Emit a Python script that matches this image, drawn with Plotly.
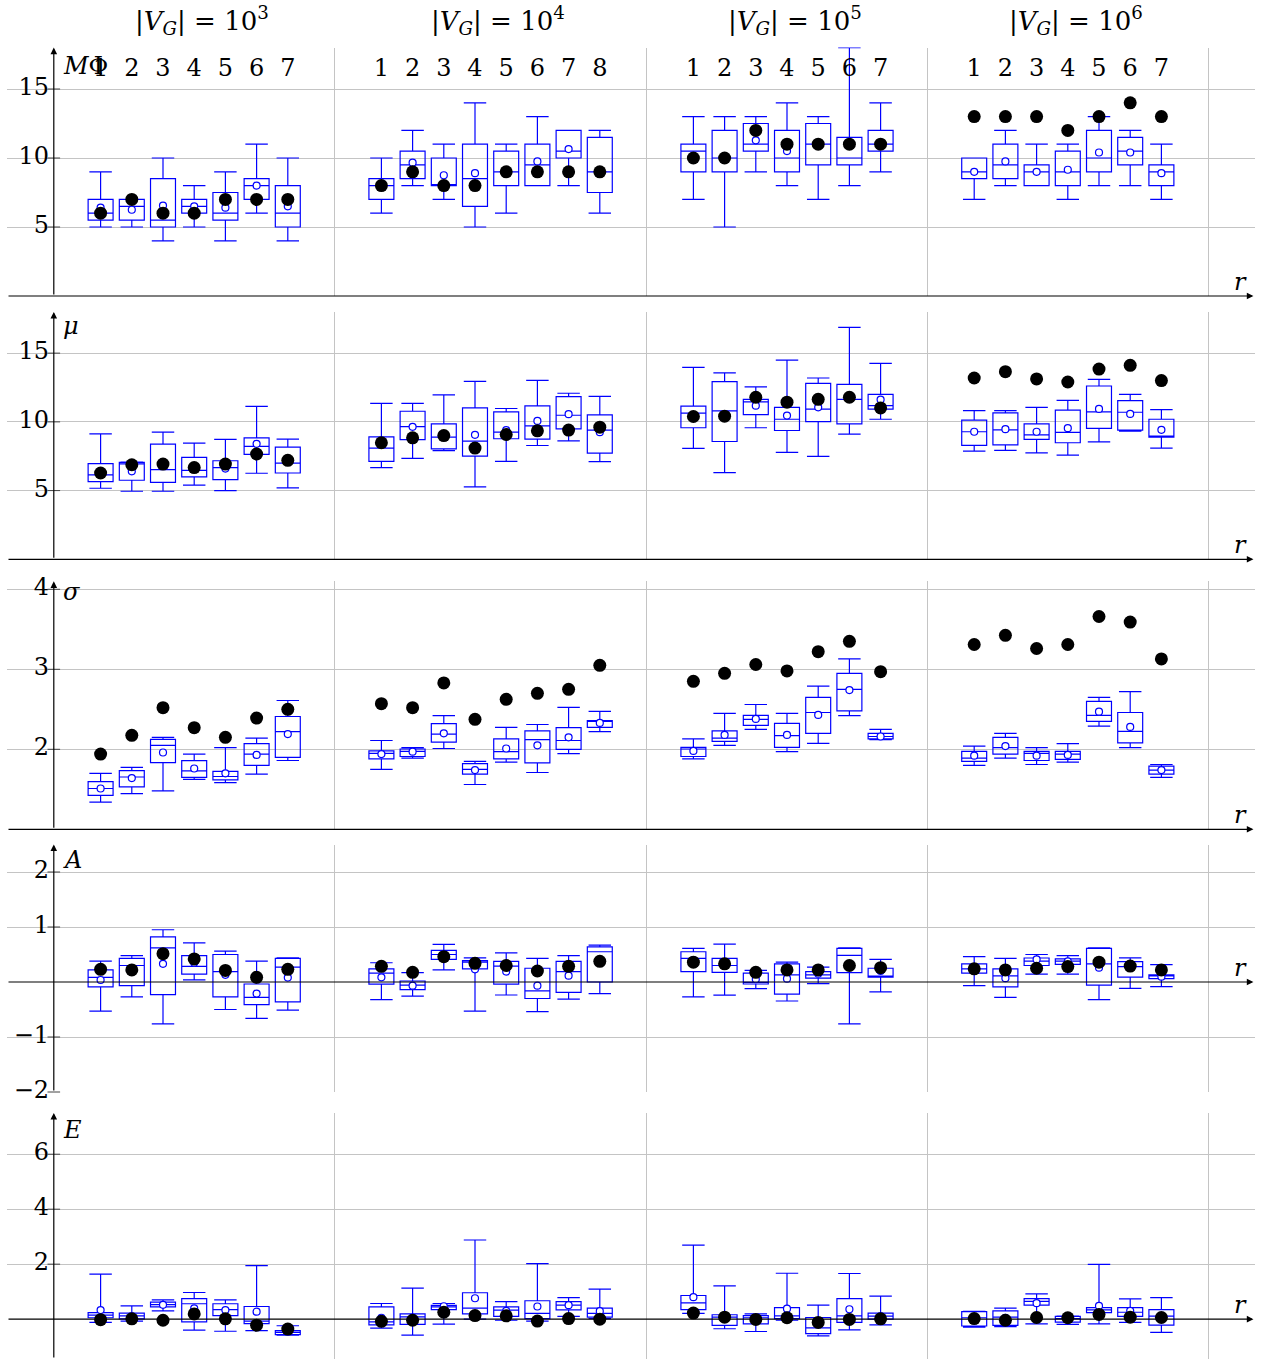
import plotly.graph_objects as go

# ---------------- data ----------------
group_titles = ["10<sup>3</sup>", "10<sup>4</sup>", "10<sup>5</sup>", "10<sup>6</sup>"]
group_sizes = [7, 8, 7, 7]
r_labels = [str(i) for n in group_sizes for i in range(1, n + 1)]

# M_Phi
M_lo = [5, 5, 4, 5, 4, 6, 4,   6, 8, 7, 5, 6, 8, 8, 6,   7, 5, 9, 8, 7, 8, 9,   7, 8, 8, 7, 8, 8, 7]
M_q1 = [5.5, 5.5, 5, 6, 5.5, 7, 5,   7, 8.5, 8, 6.5, 8, 8, 10, 7.5,   9, 9, 10.5, 9, 9.5, 9.5, 10.5,   8.5, 8.5, 8, 8, 9, 9.5, 8]
M_med = [6, 6.5, 5.5, 6.5, 6, 8, 6,   8, 9.5, 8, 8.5, 9, 9.5, 10.5, 9,   10.5, 10, 11, 10, 11, 10, 11,   9, 9.5, 9, 9, 10, 10.5, 9]
M_q3 = [7, 7, 8.5, 7, 7.5, 8.5, 8,   8.5, 10.5, 10, 11, 10.5, 11, 12, 11.5,   11, 12, 12.5, 12, 12.5, 11.5, 12,   10, 11, 9.5, 10.5, 12, 11.5, 9.5]
M_hi = [9, 7, 10, 8, 9, 11, 10,   10, 12, 11, 14, 11, 13, 12, 12,   13, 13, 13, 14, 13, 18, 14,   10, 12, 11, 11, 13, 12, 11]
M_mean = [6.4, 6.25, 6.55, 6.5, 6.4, 8.0, 6.5,   8.0, 9.66, 8.75, 8.9, 9.0, 9.75, 10.65, 9.0,   10.1, 10.0, 11.28, 10.5, 11.0, 10.9, 11.1,   9.0, 9.75, 9.0, 9.15, 10.4, 10.4, 8.9]
M_dot = [6, 7, 6, 6, 7, 7, 7,   8, 9, 8, 8, 9, 9, 9, 9,   10, 10, 12, 11, 11, 11, 11,   13, 13, 13, 12, 13, 14, 13]

# mu
mu_lo = [5.17, 4.95, 4.95, 5.4, 5.0, 6.26, 5.2,   6.67, 7.34, 7.9, 5.27, 7.13, 8.28, 8.62, 7.1,   8.07, 6.3, 9.57, 7.78, 7.49, 9.11, 10.19,   7.87, 7.92, 7.75, 7.58, 8.55, 9.32, 8.09]
mu_q1 = [5.65, 5.75, 5.6, 6.0, 5.8, 7.63, 6.28,   7.13, 8.7, 8.04, 7.51, 8.77, 8.74, 9.49, 7.73,   9.57, 8.57, 10.53, 9.37, 10.02, 9.86, 10.92,   8.29, 8.33, 8.72, 8.48, 9.52, 9.4, 8.89]
mu_med = [6.14, 6.95, 6.52, 6.47, 6.67, 8.21, 7.0,   8.09, 9.66, 8.89, 8.6, 9.25, 9.71, 10.48, 9.4,   10.63, 10.8, 11.45, 10.19, 10.92, 11.64, 11.18,   9.28, 9.42, 9.06, 9.23, 10.72, 10.7, 8.96]
mu_q3 = [6.96, 7.05, 8.38, 7.42, 7.17, 8.84, 8.16,   8.91, 10.77, 9.86, 11.01, 10.72, 11.16, 11.84, 10.51,   11.14, 12.92, 11.64, 11.06, 12.8, 12.73, 12.0,   10.12, 10.65, 9.86, 10.85, 12.61, 11.55, 10.19]
mu_hi = [9.13, 7.08, 9.25, 8.45, 8.72, 11.13, 8.74,   11.35, 11.35, 11.96, 12.95, 10.97, 13.02, 12.08, 11.86,   13.96, 13.57, 12.54, 14.49, 13.19, 16.88, 14.25,   10.82, 10.82, 11.06, 11.57, 13.09, 12.0, 10.89]
mu_mean = [6.3, 6.4, 6.9, 6.6, 6.6, 8.4, 7.1,   8.4, 9.64, 9.0, 9.06, 9.4, 10.07, 10.56, 9.25,   10.4, 10.5, 11.18, 10.46, 11.06, 11.7, 11.62,   9.28, 9.47, 9.28, 9.54, 10.94, 10.58, 9.42]
mu_dot = [6.28, 6.88, 6.93, 6.67, 6.93, 7.66, 7.2,   8.48, 8.84, 9.0, 8.09, 9.08, 9.35, 9.4, 9.61,   10.39, 10.41, 11.79, 11.43, 11.64, 11.79, 11.01,   13.19, 13.65, 13.12, 12.9, 13.84, 14.11, 13.0]

# sigma
sg_lo = [1.34, 1.446, 1.48, 1.625, 1.583, 1.69, 1.86,   1.75, 1.89, 2.01, 1.56, 1.84, 1.71, 1.945, 2.22,   1.88, 2.05, 2.25, 1.97, 2.075, 2.42, 2.12,   1.80, 1.89, 1.81, 1.84, 2.29, 2.02, 1.65]
sg_q1 = [1.425, 1.53, 1.833, 1.65, 1.617, 1.80, 1.90,   1.88, 1.91, 2.09, 1.69, 1.88, 1.83, 2.0, 2.275,   1.91, 2.10, 2.30, 2.025, 2.20, 2.48, 2.13,   1.85, 1.94, 1.86, 1.875, 2.35, 2.08, 1.69]
sg_med = [1.51, 1.654, 2.05, 1.73, 1.66, 1.94, 2.22,   1.95, 1.975, 2.19, 1.75, 1.97, 2.12, 2.11, 2.35,   2.004, 2.14, 2.375, 2.17, 2.46, 2.75, 2.16,   1.89, 2.02, 1.95, 1.94, 2.425, 2.225, 1.74]
sg_q3 = [1.596, 1.733, 2.125, 1.858, 1.725, 2.07, 2.41,   1.98, 2.004, 2.32, 1.82, 2.13, 2.23, 2.27, 2.36,   2.025, 2.23, 2.425, 2.325, 2.65, 2.95, 2.20,   1.975, 2.15, 1.975, 1.975, 2.60, 2.46, 1.79]
sg_hi = [1.70, 1.775, 2.15, 1.94, 2.02, 2.14, 2.61,   2.11, 2.02, 2.42, 1.85, 2.275, 2.31, 2.525, 2.475,   2.13, 2.45, 2.56, 2.45, 2.79, 3.13, 2.25,   2.04, 2.20, 2.02, 2.07, 2.65, 2.72, 1.81]
sg_mean = [1.51, 1.64, 1.96, 1.76, 1.70, 1.93, 2.19,   1.94, 1.97, 2.20, 1.74, 2.01, 2.05, 2.15, 2.33,   1.98, 2.18, 2.38, 2.18, 2.43, 2.74, 2.16,   1.92, 2.04, 1.92, 1.93, 2.47, 2.28, 1.74]
sg_dot = [1.94, 2.175, 2.52, 2.27, 2.15, 2.39, 2.50,   2.57, 2.52, 2.83, 2.375, 2.625, 2.70, 2.75, 3.05,   2.85, 2.95, 3.06, 2.98, 3.22, 3.35, 2.97,   3.31, 3.425, 3.26, 3.31, 3.66, 3.59, 3.13]

# A
A_lo = [-0.53, -0.27, -0.76, 0.04, -0.50, -0.66, -0.51,   -0.32, -0.255, 0.22, -0.53, -0.236, -0.54, -0.31, -0.21,   -0.27, -0.24, -0.12, -0.345, -0.03, -0.76, -0.18,   -0.067, -0.28, 0.145, 0.145, -0.32, -0.115, -0.085]
A_q1 = [-0.09, -0.067, -0.23, 0.145, -0.27, -0.41, -0.36,   -0.04, -0.14, 0.41, 0.24, -0.04, -0.30, -0.19, 0.0,   0.19, 0.176, -0.036, -0.22, 0.07, 0.17, 0.09,   0.16, -0.09, 0.30, 0.32, -0.055, 0.09, 0.06]
A_med = [0.085, 0.30, 0.62, 0.285, 0.19, -0.28, 0.27,   0.16, -0.055, 0.50, 0.36, 0.29, -0.16, 0.19, 0.55,   0.43, 0.30, -0.006, 0.13, 0.13, 0.485, 0.10,   0.24, 0.11, 0.38, 0.38, 0.33, 0.28, 0.11]
A_q3 = [0.22, 0.43, 0.82, 0.48, 0.50, -0.036, 0.43,   0.24, 0.018, 0.576, 0.39, 0.376, 0.25, 0.376, 0.64,   0.55, 0.43, 0.16, 0.33, 0.19, 0.61, 0.25,   0.33, 0.24, 0.436, 0.42, 0.61, 0.37, 0.13]
A_hi = [0.38, 0.48, 0.95, 0.71, 0.56, 0.38, 0.44,   0.35, 0.17, 0.685, 0.44, 0.53, 0.43, 0.48, 0.67,   0.61, 0.69, 0.21, 0.36, 0.27, 0.62, 0.41,   0.46, 0.43, 0.50, 0.48, 0.62, 0.44, 0.315]
A_mean = [0.036, 0.2, 0.33, 0.35, 0.13, -0.21, 0.08,   0.085, -0.067, 0.5, 0.23, 0.19, -0.067, 0.115, 0.4,   0.4, 0.3, 0.05, 0.06, 0.15, 0.3, 0.2,   0.25, 0.07, 0.41, 0.376, 0.26, 0.27, 0.097]
A_dot = [0.23, 0.22, 0.515, 0.42, 0.21, 0.085, 0.23,   0.285, 0.176, 0.46, 0.34, 0.30, 0.20, 0.285, 0.376,   0.36, 0.33, 0.176, 0.22, 0.22, 0.30, 0.26,   0.24, 0.22, 0.25, 0.28, 0.36, 0.29, 0.22]

# E
E_lo = [-0.12, -0.07, 0.30, -0.40, -0.44, -0.42, -0.58,   -0.33, -0.58, -0.18, 0.0, -0.04, -0.07, 0.10, 0.02,   0.21, -0.35, -0.45, -0.04, -0.61, -0.39, -0.21,   -0.29, -0.27, -0.17, -0.19, -0.17, -0.12, -0.48]
E_q1 = [0.05, 0.01, 0.45, -0.10, 0.13, -0.16, -0.56,   -0.21, -0.19, 0.35, 0.19, 0.10, 0.02, 0.34, 0.07,   0.35, -0.23, -0.17, 0.02, -0.53, -0.12, 0.0,   -0.25, -0.23, 0.51, -0.11, 0.24, 0.10, -0.22]
E_med = [0.145, 0.12, 0.53, 0.56, 0.35, -0.07, -0.48,   -0.10, 0.085, 0.45, 0.40, 0.33, 0.21, 0.51, 0.21,   0.59, 0.07, 0.05, 0.12, -0.32, 0.12, 0.11,   0.05, 0.07, 0.65, 0.02, 0.34, 0.25, 0.11]
E_q3 = [0.24, 0.22, 0.62, 0.75, 0.56, 0.46, -0.42,   0.45, 0.19, 0.50, 0.96, 0.45, 0.67, 0.64, 0.40,   0.86, 0.16, 0.13, 0.42, 0.06, 0.75, 0.22,   0.27, 0.30, 0.75, 0.10, 0.42, 0.42, 0.35]
E_hi = [1.64, 0.485, 0.70, 0.97, 0.70, 1.95, -0.24,   0.57, 1.13, 0.57, 2.88, 0.64, 2.02, 0.78, 1.09,   2.69, 1.21, 0.19, 1.67, 0.51, 1.66, 0.84,   0.28, 0.40, 0.92, 0.11, 1.99, 0.74, 0.78]
E_mean = [0.33, 0.1, 0.52, 0.39, 0.33, 0.27, -0.45,   0.05, 0.05, 0.47, 0.76, 0.3, 0.46, 0.51, 0.29,   0.80, 0.1, 0.0, 0.38, -0.1, 0.36, 0.1,   0.0, 0.05, 0.58, 0.0, 0.48, 0.30, 0.1]
E_dot = [-0.02, 0.01, -0.04, 0.19, 0.01, -0.22, -0.36,   -0.08, -0.04, 0.25, 0.13, 0.12, -0.07, 0.02, 0.0,   0.22, 0.07, -0.01, 0.05, -0.12, -0.01, 0.01,   0.02, -0.04, 0.06, 0.05, 0.17, 0.07, 0.06]

# ---------------- layout constants ----------------
W, H = 1263, 1359
ML, MR = 7, 8
FONT = "DejaVu Serif"
FS = 24
BLUE = "#0000ff"
GRID = "#c4c4c4"
XR = [-1.5, 38.5]
group_x0 = [1.5, 10.5, 20.5, 29.5]
vgrid = [9, 19, 28, 37]
xpos = [group_x0[g] + i for g, n in enumerate(group_sizes) for i in range(n)]
group_centers = [group_x0[g] + (n - 1) / 2 for g, n in enumerate(group_sizes)]


def fmt(v):
    return str(v).replace("-", "\u2212")


panels = [
    dict(label="<i>M</i>\u03a6", stats=(M_lo, M_q1, M_med, M_q3, M_hi, M_mean, M_dot),
         yr=[0, 18], top=47.6, bot=296.0, ticks=[5, 10, 15], axis_y=0, label_y=16.7),
    dict(label="<i>\u03bc</i>", stats=(mu_lo, mu_q1, mu_med, mu_q3, mu_hi, mu_mean, mu_dot),
         yr=[0, 18], top=311.9, bot=559.3, ticks=[5, 10, 15], axis_y=0, label_y=17.0),
    dict(label="<i>\u03c3</i>", stats=(sg_lo, sg_q1, sg_med, sg_q3, sg_hi, sg_mean, sg_dot),
         yr=[1, 4.1], top=581.3, bot=829.3, ticks=[2, 3, 4], axis_y=1, label_y=3.97),
    dict(label="<i>A</i>", stats=(A_lo, A_q1, A_med, A_q3, A_hi, A_mean, A_dot),
         yr=[-2, 2.5], top=844.5, bot=1092.0, ticks=[-2, -1, 1, 2], axis_y=0, label_y=2.22),
    dict(label="<i>E</i>", stats=(E_lo, E_q1, E_med, E_q3, E_hi, E_mean, E_dot),
         yr=[-1.45, 7.5], top=1113.0, bot=1359.0, ticks=[2, 4, 6], axis_y=0, label_y=6.87),
]

fig = go.Figure()
annotations = []
layout_axes = {}

for k, p in enumerate(panels, start=1):
    xa = "x" if k == 1 else f"x{k}"
    ya = "y" if k == 1 else f"y{k}"
    lo, q1, med, q3, hi, mean, dot = p["stats"]

    fig.add_trace(go.Box(
        x=xpos, q1=q1, median=med, q3=q3, lowerfence=lo, upperfence=hi,
        boxpoints=False, width=0.8, whiskerwidth=0.9,
        line=dict(color=BLUE, width=1.2), fillcolor="rgba(0,0,0,0)",
        hoverinfo="skip", xaxis=xa, yaxis=ya))
    fig.add_trace(go.Scatter(
        x=xpos, y=mean, mode="markers",
        marker=dict(symbol="circle", size=7, color="white", line=dict(color=BLUE, width=1.2)),
        hoverinfo="skip", xaxis=xa, yaxis=ya, cliponaxis=False))
    fig.add_trace(go.Scatter(
        x=xpos, y=dot, mode="markers",
        marker=dict(symbol="circle", size=13, color="black", line=dict(width=0)),
        hoverinfo="skip", xaxis=xa, yaxis=ya, cliponaxis=False))

    # tick labels and tick marks along the y axis
    fig.add_trace(go.Scatter(
        x=[-0.15] * len(p["ticks"]), y=p["ticks"], text=[fmt(t) for t in p["ticks"]],
        mode="text", textposition="middle left",
        textfont=dict(family=FONT, size=FS, color="black"),
        hoverinfo="skip", xaxis=xa, yaxis=ya, cliponaxis=False))
    fig.add_trace(go.Scatter(
        x=[0] * len(p["ticks"]), y=p["ticks"], mode="markers",
        marker=dict(symbol="line-ew", size=9, line=dict(color="#444444", width=1)),
        hoverinfo="skip", xaxis=xa, yaxis=ya, cliponaxis=False))

    if k == 1:
        fig.add_trace(go.Scatter(
            x=xpos, y=[16.4] * len(xpos), text=r_labels, mode="text",
            textposition="middle center",
            textfont=dict(family=FONT, size=FS, color="black"),
            hoverinfo="skip", xaxis=xa, yaxis=ya, cliponaxis=False))

    layout_axes["xaxis" if k == 1 else f"xaxis{k}"] = dict(
        domain=[0, 1], range=XR, anchor=ya, tickvals=vgrid, showticklabels=False,
        showgrid=True, gridcolor=GRID, gridwidth=1, zeroline=False, showline=False, ticks="")
    layout_axes["yaxis" if k == 1 else f"yaxis{k}"] = dict(
        domain=[1 - p["bot"] / H, 1 - p["top"] / H], range=p["yr"], anchor=xa,
        tickvals=p["ticks"], showticklabels=False, showgrid=True, gridcolor=GRID,
        gridwidth=1, zeroline=False, showline=False, ticks="")

    # x axis with arrow
    annotations.append(dict(
        x=38.45, y=p["axis_y"], xref=xa, yref=ya, ax=XR[0], ay=p["axis_y"],
        axref=xa, ayref=ya, text="", showarrow=True, arrowhead=2, arrowsize=1.1,
        arrowwidth=1.2, arrowcolor="black", standoff=0, startstandoff=0))
    # y axis with arrow
    annotations.append(dict(
        x=0, y=p["yr"][1], xref=xa, yref=ya, ax=0, ay=p["yr"][0],
        axref=xa, ayref=ya, text="", showarrow=True, arrowhead=2, arrowsize=1.1,
        arrowwidth=1.2, arrowcolor="black", standoff=0, startstandoff=0))
    # axis labels
    annotations.append(dict(
        x=0.22, y=p["label_y"], xref=xa, yref=ya, text=p["label"], showarrow=False,
        xanchor="left", yanchor="middle", font=dict(family=FONT, size=FS, color="black")))
    annotations.append(dict(
        x=38.05, y=p["axis_y"], xref=xa, yref=ya, text="<i>r</i>", showarrow=False,
        xanchor="center", yanchor="middle", yshift=14,
        font=dict(family=FONT, size=FS, color="black")))

for g, title in enumerate(group_titles):
    annotations.append(dict(
        x=group_centers[g] + 0.25, y=1 - 20 / H, xref="x", yref="paper",
        text="|<i>V</i><sub><i>G</i></sub>| = " + title, showarrow=False,
        xanchor="center", yanchor="middle", font=dict(family=FONT, size=FS + 2, color="black")))

fig.update_layout(
    width=W, height=H,
    font=dict(family=FONT, size=FS, color="black"),
    margin=dict(l=ML, r=MR, t=0, b=0, pad=0, autoexpand=False),
    plot_bgcolor="white", paper_bgcolor="white", showlegend=False,
    annotations=annotations, **layout_axes)

fig.write_html("out.html")
